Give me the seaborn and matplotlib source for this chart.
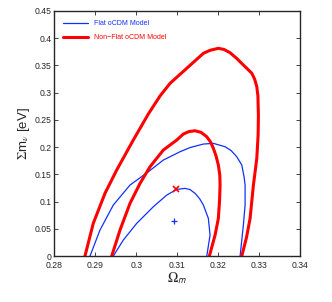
import matplotlib
matplotlib.use("Agg")
import matplotlib.pyplot as plt
import seaborn as sns

# contour traces (Omega_m, sum m_nu)
red_outer_om = [0.28745, 0.28948, 0.29234, 0.29520, 0.29926, 0.30292, 0.30578, 0.30823,
                0.31231, 0.31637, 0.31800, 0.32003, 0.32143, 0.32289, 0.32453, 0.32614,
                0.32729, 0.32820, 0.32888, 0.32942, 0.32969, 0.32981, 0.32974, 0.32942,
                0.32859, 0.32778, 0.32692, 0.32575]
red_outer_mnu = [0.0, 0.0601, 0.1152, 0.1580, 0.2131, 0.2608, 0.2939, 0.3172,
                 0.3448, 0.3723, 0.3778, 0.3815, 0.3793, 0.3734, 0.3628, 0.3508,
                 0.3425, 0.3356, 0.3251, 0.3110, 0.2939, 0.2590, 0.2222, 0.1795,
                 0.1304, 0.0692, 0.0349, 0.0]

red_inner_om = [0.29398, 0.29601, 0.29845, 0.30090, 0.30334, 0.30659, 0.30987, 0.31148,
                0.31287, 0.31434, 0.31580, 0.31720, 0.31813, 0.31881, 0.31947, 0.32003,
                0.32038, 0.32045, 0.32033, 0.32003, 0.31923, 0.31783]
red_inner_mnu = [0.0, 0.0478, 0.0968, 0.1335, 0.1640, 0.1947, 0.2131, 0.2241,
                 0.2287, 0.2301, 0.2272, 0.2191, 0.2094, 0.1978, 0.1837, 0.1671,
                 0.1488, 0.1304, 0.1029, 0.0692, 0.0386, 0.0]

blue_outer_om = [0.28868, 0.29112, 0.29437, 0.29845, 0.30292, 0.30659, 0.31067, 0.31312,
                 0.31637, 0.31881, 0.32167, 0.32314, 0.32453, 0.32575, 0.32631, 0.32656,
                 0.32656, 0.32614, 0.32534]
blue_outer_mnu = [0.0, 0.0478, 0.0937, 0.1304, 0.1548, 0.1763, 0.1916, 0.1993,
                  0.2057, 0.2070, 0.2008, 0.1938, 0.1824, 0.1671, 0.1457, 0.1304,
                  0.0937, 0.0569, 0.0]

blue_inner_om = [0.29437, 0.29681, 0.30009, 0.30415, 0.30742, 0.30987, 0.31189, 0.31312,
                 0.31434, 0.31544, 0.31637, 0.31759, 0.31800, 0.31720]
blue_inner_mnu = [0.0, 0.0294, 0.0601, 0.0906, 0.1120, 0.1225, 0.1243, 0.1221,
                  0.1152, 0.1056, 0.0937, 0.0692, 0.0386, 0.0]

best_fit_flat = (0.3093, 0.0643)
best_fit_nonflat = (0.3096, 0.1225)

labels = ["Flat oCDM Model", "Non\u2212Flat oCDM Model"]
x_ticks = [0.28, 0.29, 0.30, 0.31, 0.32, 0.33, 0.34]
x_ticklabels = ["0.28", "0.29", "0.3", "0.31", "0.32", "0.33", "0.34"]
y_ticks = [0, 0.05, 0.1, 0.15, 0.2, 0.25, 0.3, 0.35, 0.4, 0.45]
y_ticklabels = ["0", "0.05", "0.1", "0.15", "0.2", "0.25", "0.3", "0.35", "0.4", "0.45"]

sns.set_style("ticks")
plt.rcParams["font.family"] = ["Liberation Sans", "DejaVu Sans"]
plt.rcParams["mathtext.fontset"] = "stix"
plt.rcParams["xtick.direction"] = "in"
plt.rcParams["ytick.direction"] = "in"

fig = plt.figure(figsize=(3.32, 3.02), dpi=100)
ax = fig.add_axes([0.164, 0.152, 0.740, 0.8116])

red = "#ff0000"
blue = "#1030ff"
sns.lineplot(x=blue_outer_om, y=blue_outer_mnu, sort=False, estimator=None,
             color=blue, lw=0.9, ax=ax)
sns.lineplot(x=blue_inner_om, y=blue_inner_mnu, sort=False, estimator=None,
             color=blue, lw=0.9, ax=ax)
sns.lineplot(x=red_outer_om, y=red_outer_mnu, sort=False, estimator=None,
             color=red, lw=2.2, ax=ax)
sns.lineplot(x=red_inner_om, y=red_inner_mnu, sort=False, estimator=None,
             color=red, lw=2.2, ax=ax)
ax.plot(*best_fit_flat, marker="+", color=blue, ms=5, mew=0.9)
ax.plot(*best_fit_nonflat, marker="x", color=red, ms=4, mew=1.2)

lines = ax.get_lines()
ax.legend([lines[0], lines[2]], labels, loc="upper left", frameon=False,
          fontsize=5, handlelength=3.6, labelcolor="linecolor",
          borderaxespad=0.9, labelspacing=1.0)

ax.set_xlim(0.28, 0.34)
ax.set_ylim(0, 0.45)
ax.set_xticks(x_ticks)
ax.set_xticklabels(x_ticklabels)
ax.set_yticks(y_ticks)
ax.set_yticklabels(y_ticklabels)
ax.tick_params(labelsize=6.2, length=3, width=0.6, top=True, right=True, pad=2)
ax.tick_params(axis="x", pad=3.5)
for s in ax.spines.values():
    s.set_linewidth(1.0)
    s.set_visible(True)

ax.set_xlabel(r"$\Omega_{\mathsf{m}}$", fontsize=10, labelpad=0)
ax.set_ylabel(r"$\Sigma$m$_{\nu}$ [eV]", fontsize=9.5, labelpad=2)

fig.savefig("out.png", dpi=100)
